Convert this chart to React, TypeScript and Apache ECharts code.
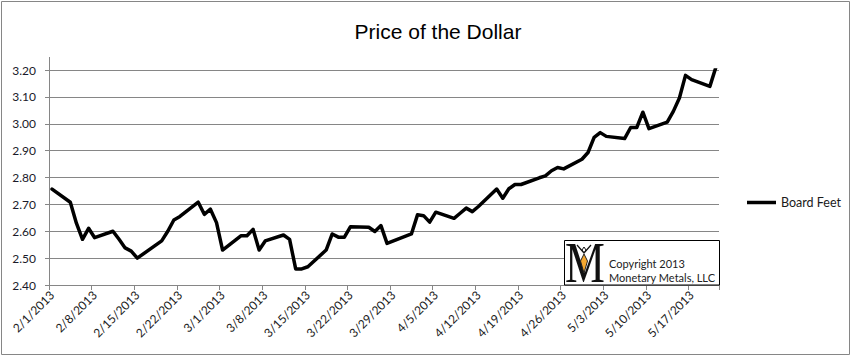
import React, { useEffect, useRef } from "react";
import * as echarts from "echarts";

const seriesName = "Board Feet";
const titleText = "Price of the Dollar";

const tradeDates = [
  "2/1/2013", "2/4/2013", "2/5/2013", "2/6/2013", "2/7/2013", "2/8/2013",
  "2/11/2013", "2/12/2013", "2/13/2013", "2/14/2013", "2/15/2013",
  "2/19/2013", "2/20/2013", "2/21/2013", "2/22/2013",
  "2/25/2013", "2/26/2013", "2/27/2013", "2/28/2013", "3/1/2013",
  "3/4/2013", "3/5/2013", "3/6/2013", "3/7/2013", "3/8/2013",
  "3/11/2013", "3/12/2013", "3/13/2013", "3/14/2013", "3/15/2013",
  "3/18/2013", "3/19/2013", "3/20/2013", "3/21/2013", "3/22/2013",
  "3/25/2013", "3/26/2013", "3/27/2013", "3/28/2013",
  "4/1/2013", "4/2/2013", "4/3/2013", "4/4/2013", "4/5/2013",
  "4/8/2013", "4/9/2013", "4/10/2013", "4/11/2013", "4/12/2013",
  "4/15/2013", "4/16/2013", "4/17/2013", "4/18/2013", "4/19/2013",
  "4/22/2013", "4/23/2013", "4/24/2013", "4/25/2013", "4/26/2013",
  "4/29/2013", "4/30/2013", "5/1/2013", "5/2/2013", "5/3/2013",
  "5/6/2013", "5/7/2013", "5/8/2013", "5/9/2013", "5/10/2013",
  "5/13/2013", "5/14/2013", "5/15/2013", "5/16/2013", "5/17/2013",
  "5/20/2013", "5/21/2013",
];

const prices = [
  2.757, 2.708, 2.63, 2.57, 2.611, 2.576,
  2.6, 2.57, 2.538, 2.526, 2.5,
  2.564, 2.6, 2.642, 2.655,
  2.708, 2.663, 2.682, 2.632, 2.53,
  2.583, 2.583, 2.607, 2.53, 2.564,
  2.586, 2.57, 2.46, 2.46, 2.468,
  2.53, 2.59, 2.578, 2.578, 2.617,
  2.615, 2.599, 2.621, 2.555,
  2.59, 2.661, 2.658, 2.634, 2.671,
  2.648, 2.667, 2.686, 2.673, 2.692,
  2.757, 2.723, 2.758, 2.774, 2.774,
  2.799, 2.806, 2.825, 2.837, 2.832,
  2.868, 2.893, 2.949, 2.967, 2.953,
  2.945, 2.986, 2.986, 3.043, 2.982,
  3.006, 3.046, 3.096, 3.18, 3.164,
  3.139, 3.211,
];

const yMin = 2.4;
const yMax = 3.2;
const yStep = 0.1;
const labelEveryDays = 7;

const parseDate = (s: string) => {
  const [m, d, y] = s.split("/").map(Number);
  return Date.UTC(y, m - 1, d);
};
const fmtDate = (t: number) => {
  const d = new Date(t);
  return `${d.getUTCMonth() + 1}/${d.getUTCDate()}/${d.getUTCFullYear()}`;
};

export default function App() {
  const ref = useRef<HTMLDivElement>(null);
  useEffect(() => {
    document.body.style.margin = "0";
    if (!ref.current) return;
    const chart = echarts.init(ref.current, undefined, { renderer: "svg" });

    // Calendar-day axis (like Excel's date axis)
    const start = parseDate(tradeDates[0]);
    const end = parseDate(tradeDates[tradeDates.length - 1]);
    const DAY = 86400000;
    const categories: string[] = [];
    for (let t = start; t <= end; t += DAY) categories.push(fmtDate(t));
    const valueMap: Record<string, number> = {};
    tradeDates.forEach((d, i) => (valueMap[d] = prices[i]));
    const seriesData = categories.map((c) => (c in valueMap ? valueMap[c] : null));

    const labelFont = "Lato";
    const gray = "#868686";

    chart.setOption({
      animation: false,
      backgroundColor: "#ffffff",
      title: {
        text: titleText,
        left: 433,
        top: 16,
        textAlign: "center",
        textStyle: {
          fontFamily: "Liberation Sans",
          fontSize: 21,
          fontWeight: "normal",
          color: "#000",
        },
      },
      legend: {
        data: [seriesName],
        orient: "vertical",
        left: 742,
        top: 191,
        icon: "rect",
        itemWidth: 29,
        itemHeight: 3.5,
        itemGap: 0,
        textStyle: {
          fontFamily: labelFont,
          fontSize: 12.5,
          color: "#1a1a1a",
        },
      },
      grid: { left: 49, right: 133, top: 70, bottom: 72, containLabel: false },
      xAxis: {
        type: "category",
        data: categories,
        boundaryGap: true,
        axisLine: { show: true, lineStyle: { color: gray, width: 1 } },
        axisTick: {
          show: true,
          interval: labelEveryDays - 1,
          length: 5,
          lineStyle: { color: gray },
        },
        axisLabel: {
          interval: labelEveryDays - 1,
          rotate: 45,
          margin: 8,
          fontFamily: labelFont,
          fontSize: 12,
          color: "#1a1a1a",
        },
        splitLine: { show: false },
      },
      yAxis: {
        type: "value",
        min: yMin,
        max: yMax,
        interval: yStep,
        axisLine: { show: false },
        axisTick: { show: true, length: 4, lineStyle: { color: gray } },
        axisLabel: {
          margin: 13,
          formatter: (v: number) => v.toFixed(2),
          fontFamily: labelFont,
          fontSize: 12,
          color: "#1a1a2a",
        },
        splitLine: { show: true, lineStyle: { color: gray, width: 1 } },
      },
      series: [
        {
          name: seriesName,
          type: "line",
          data: seriesData,
          connectNulls: true,
          symbol: "none",
          showSymbol: false,
          lineStyle: { color: "#000", width: 3.5, cap: "round", join: "round" },
          itemStyle: { color: "#000" },
        },
      ],
      graphic: [
        {
          type: "rect",
          shape: { x: 1.5, y: 1.5, width: 848, height: 353 },
          style: { fill: "none", stroke: gray, lineWidth: 1 },
          silent: true,
        },
        {
          type: "line",
          shape: { x1: 49.5, y1: 57, x2: 49.5, y2: 285 },
          style: { stroke: gray, lineWidth: 1 },
          silent: true,
        },
        {
          type: "group",
          children: [
            {
              type: "rect",
              shape: { x: 564.5, y: 240.5, width: 155, height: 44.5 },
              style: { fill: "#fff", stroke: "#000", lineWidth: 1 },
              z: 10,
            },
            {
              type: "text",
              x: 565,
              y: 263,
              scaleX: 0.8,
              style: {
                text: "M",
                font: '56px "Liberation Serif"',
                fill: "#111",
                verticalAlign: "middle",
              },
              z: 11,
            },
            {
              type: "polyline",
              shape: { points: [[577, 245], [584, 253], [591, 245]] },
              style: { stroke: "#111", lineWidth: 1.2, fill: "none" },
              z: 12,
            },
            {
              type: "polygon",
              shape: { points: [[584, 247], [586, 250], [584, 252.5], [582, 250]] },
              style: { fill: "#fff", stroke: "#111", lineWidth: 1 },
              z: 12,
            },
            {
              type: "polygon",
              shape: { points: [[584, 254], [587.5, 261], [584, 273], [580.5, 261]] },
              style: { fill: "#F5A830", stroke: "#222", lineWidth: 1 },
              z: 12,
            },
            {
              type: "text",
              x: 609,
              y: 263,
              style: {
                text: "Copyright 2013",
                font: '11px "Lato"',
                fill: "#222",
                verticalAlign: "middle",
              },
              z: 11,
            },
            {
              type: "text",
              x: 609,
              y: 277,
              style: {
                text: "Monetary Metals, LLC",
                font: '11px "Lato"',
                fill: "#222",
                verticalAlign: "middle",
              },
              z: 11,
            },
          ],
        },
      ],
    });
    return () => chart.dispose();
  }, []);
  return <div ref={ref} style={{ width: 852, height: 357 }} />;
}
